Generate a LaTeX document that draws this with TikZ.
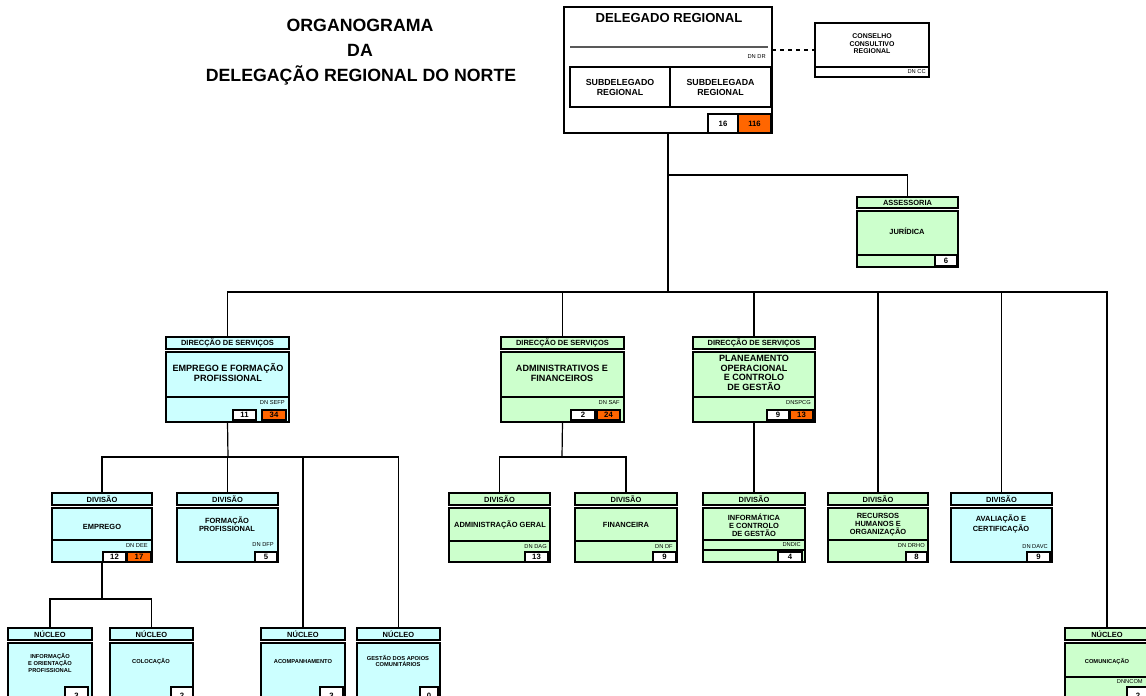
\documentclass[tikz,border=0pt]{standalone}
\usepackage{fontspec}
\setmainfont{Liberation Sans}
\definecolor{cy}{HTML}{CCFFFF}
\definecolor{gr}{HTML}{CCFFCC}
\definecolor{orng}{HTML}{FF6600}
\newcommand\fs[2]{\fontsize{#1}{#2}\selectfont}
% \bx{name}{x1}{y1}{x2}{y2}{style}{text}: box spanning two corners
\newcommand\bx[7]{\node[#6,anchor=north west,minimum width={(#4-#2)*0.75pt},minimum height={(#5-#3)*0.75pt}] (#1) at (#2,#3) {#7};}
\begin{document}
\begin{tikzpicture}[x=0.75pt,y=-0.75pt,
  box/.style={draw,inner sep=0pt,outer sep=0pt,line width=0.8pt,align=center},
  hdrc/.style={box,fill=cy,font=\bfseries\fs{5.6}{6}},
  hdrg/.style={box,fill=gr,font=\bfseries\fs{5.6}{6}},
  bodyc/.style={box,fill=cy,line width=1.1pt},
  bodyg/.style={box,fill=gr,line width=1.1pt},
  numw/.style={box,fill=white,font=\bfseries\fs{5.8}{6}},
  numo/.style={box,fill=orng,font=\bfseries\fs{5.8}{6}},
  dstxt/.style={inner sep=0pt,align=center,font=\bfseries\fs{6.8}{7.5}},
  dvtxt/.style={inner sep=0pt,align=center,font=\bfseries\fs{5.6}{6}},
  nctxt/.style={inner sep=0pt,align=center,font=\bfseries\fs{4.3}{5}},
  code/.style={inner sep=0pt,anchor=east,font=\fs{4.3}{4.5}},
  sep/.style={line width=0.8pt},
  link/.style={line width=0.9pt},
  trunk/.style={line width=1.6pt}
]
\useasboundingbox (0,0) rectangle (1146,696);
\clip (0,0) rectangle (1146,696);

% title
\node[inner sep=0pt,font=\bfseries\fs{13.3}{14}] (t1) at (360,25) {ORGANOGRAMA};
\node[inner sep=0pt,font=\bfseries\fs{13.3}{14}] (t2) at (360,50) {DA};
\node[inner sep=0pt,font=\bfseries\fs{13.3}{14}] (t3) at (361,75) {DELEGAÇÃO REGIONAL DO NORTE};

% regional delegate
\bx{dr}{564}{7}{772}{133}{box,fill=white}{}
\node[inner sep=0pt,font=\bfseries\fs{9.8}{10}] (drt) at (669,18) {DELEGADO REGIONAL};
\draw[line width=0.9pt,black!65] (570,47) -- (768,47);
\node[code] (drc) at (766,57) {DN DR};
\bx{sdo}{570}{67}{670}{107}{box,font=\bfseries\fs{6.6}{7.5}}{SUBDELEGADO\\REGIONAL}
\bx{sda}{670}{67}{771}{107}{box,font=\bfseries\fs{6.6}{7.5}}{SUBDELEGADA\\REGIONAL}
\bx{dra}{708}{114}{738}{133}{numw}{16}
\bx{drb}{738}{114}{771}{133}{numo}{116}

% advisory council
\bx{ccr}{815}{23}{929}{77}{box,fill=white}{}
\draw[sep] (815,67) -- (929,67);
\node[inner sep=0pt,align=center,font=\bfseries\fs{5.2}{5.6}] (cct) at (872,44) {CONSELHO\\CONSULTIVO\\REGIONAL};
\node[code] (ccc) at (926,72) {DN CC};
\draw[link,dashed] (dr.east |- ccr.west) -- (ccr.west);

% legal advisory
\bx{ash}{857}{197}{958}{208}{hdrg}{ASSESSORIA}
\bx{asb}{857}{211}{958}{267}{bodyg}{}
\draw[sep] (857,255) -- (958,255);
\node[dvtxt] (ast) at (907,231) {JURÍDICA};
\bx{asn}{935}{255}{957}{266}{numw}{6}

% services directorates
\bx{hdse}{166}{337}{289}{349}{hdrc}{DIRECÇÃO DE SERVIÇOS}
\bx{dse}{166}{352}{289}{422}{bodyc}{}
\draw[sep] (166,397) -- (289,397);
\node[dstxt] (dset) at (228,373) {EMPREGO E FORMAÇÃO\\PROFISSIONAL};
\node[code] (dsec) at (285,403) {DN SEFP};
\bx{dsea}{233}{410}{256}{420}{numw}{11}
\bx{dseb}{262}{410}{286}{420}{numo}{34}

\bx{hdsa}{501}{337}{624}{349}{hdrg}{DIRECÇÃO DE SERVIÇOS}
\bx{dsa}{501}{352}{624}{422}{bodyg}{}
\draw[sep] (501,397) -- (624,397);
\node[dstxt] (dsat) at (562,373) {ADMINISTRATIVOS E\\FINANCEIROS};
\node[code] (dsac) at (620,403) {DN SAF};
\bx{dsaa}{571}{410}{595}{420}{numw}{2}
\bx{dsab}{597}{410}{620}{420}{numo}{24}

\bx{hdsp}{693}{337}{815}{349}{hdrg}{DIRECÇÃO DE SERVIÇOS}
\bx{dsp}{693}{352}{815}{422}{bodyg}{}
\draw[sep] (693,397) -- (815,397);
\node[dstxt,font=\bfseries\fs{6.8}{7.3}] (dspt) at (754,373) {PLANEAMENTO\\OPERACIONAL\\E CONTROLO\\DE GESTÃO};
\node[code] (dspc) at (811,403) {DNSPCG};
\bx{dspa}{767}{410}{789}{420}{numw}{9}
\bx{dspb}{790}{410}{813}{420}{numo}{13}

% divisions
\bx{hdvee}{52}{493}{152}{505}{hdrc}{DIVISÃO}
\bx{dvee}{52}{508}{152}{562}{bodyc}{}
\draw[sep] (52,540) -- (152,540);
\node[dvtxt] (dveet) at (102,527) {EMPREGO};
\node[code] (dveec) at (148,546) {DN DEE};
\bx{dveea}{103}{552}{126}{562}{numw}{12}
\bx{dveeb}{127}{552}{151}{562}{numo}{17}

\bx{hdvfp}{177}{493}{278}{505}{hdrc}{DIVISÃO}
\bx{dvfp}{177}{508}{278}{562}{bodyc}{}
\node[dvtxt] (dvfpt) at (227,524) {FORMAÇÃO\\PROFISSIONAL};
\node[code] (dvfpc) at (274,545) {DN DFP};
\bx{dvfpa}{255}{552}{277}{562}{numw}{5}

\bx{hdvag}{449}{493}{550}{505}{hdrg}{DIVISÃO}
\bx{dvag}{449}{508}{550}{562}{bodyg}{}
\draw[sep] (449,541) -- (550,541);
\node[dvtxt] (dvagt) at (500,525) {ADMINISTRAÇÃO GERAL};
\node[code] (dvagc) at (547,547) {DN DAG};
\bx{dvaga}{525}{552}{548}{562}{numw}{13}

\bx{hdvfi}{575}{493}{677}{505}{hdrg}{DIVISÃO}
\bx{dvfi}{575}{508}{677}{562}{bodyg}{}
\draw[sep] (575,541) -- (677,541);
\node[dvtxt] (dvfit) at (626,525) {FINANCEIRA};
\node[code] (dvfic) at (673,547) {DN DF};
\bx{dvfia}{653}{552}{676}{562}{numw}{9}

\bx{hdvic}{703}{493}{805}{505}{hdrg}{DIVISÃO}
\bx{dvic}{703}{508}{805}{562}{bodyg}{}
\draw[sep] (703,540) -- (805,540);
\draw[sep] (703,550) -- (805,550);
\node[dvtxt] (dvict) at (754,525) {INFORMÁTICA\\E CONTROLO\\DE GESTÃO};
\node[code] (dvicc) at (801,545) {DNDIC};
\bx{dvica}{778}{552}{802}{562}{numw}{4}

\bx{hdvr}{828}{493}{928}{505}{hdrg}{DIVISÃO}
\bx{dvr}{828}{508}{928}{562}{bodyg}{}
\draw[sep] (828,540) -- (928,540);
\node[dvtxt] (dvrt) at (878,525) {RECURSOS\\HUMANOS E\\ORGANIZAÇÃO};
\node[code] (dvrc) at (925,546) {DN DRHO};
\bx{dvra}{906}{552}{927}{562}{numw}{8}

\bx{hdva}{951}{493}{1052}{505}{hdrc}{DIVISÃO}
\bx{dva}{951}{508}{1052}{562}{bodyc}{}
\node[dvtxt] (dvat) at (1001,524) {AVALIAÇÃO E\\CERTIFICAÇÃO};
\node[code] (dvac) at (1048,547) {DN DAVC};
\bx{dvaa}{1027}{552}{1050}{562}{numw}{9}

% units
\bx{hnio}{8}{628}{92}{640}{hdrc}{NÚCLEO}
\bx{nio}{8}{643}{92}{712}{bodyc}{}
\node[nctxt] (niot) at (50,663) {INFORMAÇÃO\\E ORIENTAÇÃO\\PROFISSIONAL};
\bx{nioa}{65}{687}{88}{705}{numw}{3}

\bx{hnco}{110}{628}{193}{640}{hdrc}{NÚCLEO}
\bx{nco}{110}{643}{193}{712}{bodyc}{}
\node[nctxt] (ncot) at (151,662) {COLOCAÇÃO};
\bx{ncoa}{171}{687}{193}{705}{numw}{2}

\bx{hnac}{261}{628}{345}{640}{hdrc}{NÚCLEO}
\bx{nac}{261}{643}{345}{712}{bodyc}{}
\node[nctxt] (nact) at (303,662) {ACOMPANHAMENTO};
\bx{naca}{320}{687}{343}{705}{numw}{3}

\bx{hnge}{357}{628}{440}{640}{hdrc}{NÚCLEO}
\bx{nge}{357}{643}{440}{712}{bodyc}{}
\node[nctxt] (nget) at (398,661) {GESTÃO DOS APOIOS\\COMUNITÁRIOS};
\bx{ngea}{420}{687}{438}{705}{numw}{0}

\bx{hncm}{1065}{628}{1149}{640}{hdrg}{NÚCLEO}
\bx{ncm}{1065}{643}{1149}{712}{bodyg}{}
\draw[sep] (1065,677) -- (1149,677);
\node[nctxt] (ncmt) at (1107,662) {COMUNICAÇÃO};
\node[code] (ncmc) at (1143,682) {DNNCOM};
\bx{ncma}{1127}{687}{1149}{705}{numw}{2}

% connectors
\coordinate (jA) at (668,175);
\coordinate (bus) at (668,292);
\draw[trunk] (dr.south) -- (bus);
\draw[link] (jA) -| (ash.north);
\draw[link] (hdse.north) -- (hdse.north |- bus) -- (hncm.north |- bus) -- (hncm.north);
\foreach \n in {hdsa,hdsp,hdvr,hdva}
  \draw[link] (\n.north) -- (\n.north |- bus);

\coordinate (jS) at (228,457);
\draw[link] (dse.south) -- (jS);
\draw[link] (hdvee.north) |- (jS) -| (hnge.north);
\draw[link] (hdvfp.north) -- (hdvfp.north |- jS);
\draw[link] (hnac.north) -- (hnac.north |- jS);

\coordinate (jF) at (562,457);
\draw[link] (dsa.south) -- (jF);
\draw[link] (hdvag.north) |- (jF) -| (hdvfi.north);

\draw[link] (dsp.south) -- (hdvic.north);

\coordinate (jE) at (102,599);
\draw[link] (dvee.south) -- (jE);
\draw[link] (hnio.north) |- (jE) -| (hnco.north);
\end{tikzpicture}
\end{document}
